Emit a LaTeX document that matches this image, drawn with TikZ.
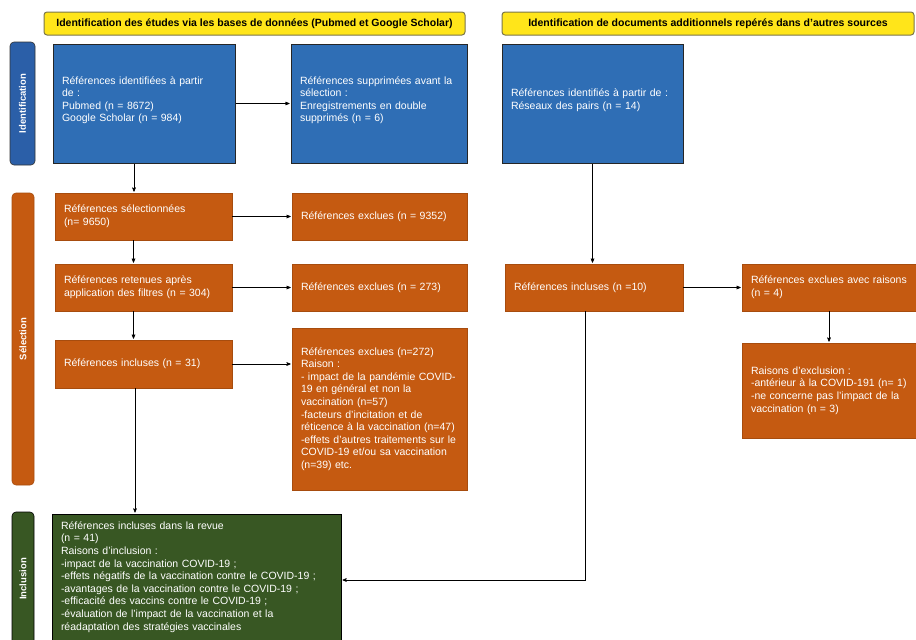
\documentclass[tikz,border=0pt]{standalone}
\usepackage{fontspec}
\setmainfont{Liberation Sans}
\usepackage{tikz}
\usetikzlibrary{arrows}

\definecolor{bleu}{HTML}{2F6EB5}
\definecolor{bleufonce}{HTML}{2B5FA8}
\definecolor{orangebox}{HTML}{C55A11}
\definecolor{vert}{HTML}{385723}
\definecolor{jaune}{HTML}{FFE51A}

\begin{document}
\begin{tikzpicture}[x=1pt,y=-1pt,->,>=stealth',shorten >=1pt,semithick,
    font=\fontsize{10.5}{12.6}\selectfont]
  \useasboundingbox (0,0) rectangle (916,640);
  \tikzstyle{hdr}=[draw=black!60!yellow,line width=1pt,fill=jaune,rounded corners=3pt,font=\fontsize{10.5}{12}\selectfont\bfseries]
  \tikzstyle{side}=[rotate=90,rounded corners=4pt,text=white,font=\fontsize{9.5}{10}\selectfont\bfseries]
  \tikzstyle{box}=[text=white,align=left,inner xsep=9pt,inner ysep=3pt]
  \tikzstyle{bluebox}=[box,draw=black!85,line width=1pt,fill=bleu]
  \tikzstyle{orangebox}=[box,draw=orangebox!85!black,fill=orangebox]
  \tikzstyle{greenbox}=[box,draw=black,line width=1pt,fill=vert]

  % en-tetes
  \node[hdr,minimum width=421pt,minimum height=23pt] (hA) at (254.5,23.5)
    {Identification des études via les bases de données (Pubmed et Google Scholar)};
  \node[hdr,minimum width=412pt,minimum height=23pt] (hB) at (708,23.5)
    {Identification de documents additionnels repérés dans d'autres sources};

  % phases
  \node[side,draw=black!80,fill=bleufonce,minimum width=123pt,minimum height=25pt] (sId) at (22.5,103.5) {Identification};
  \node[side,draw=orangebox!85!black,fill=orangebox,minimum width=292pt,minimum height=22pt] (sSel) at (23,339) {Sélection};
  \node[side,draw=black,fill=vert,minimum width=134pt,minimum height=22pt] (sInc) at (23,579) {Inclusion};

  % identification
  \node[bluebox,text width=164pt,minimum height=119pt] (b1) at (144,103.5)
    {Références identifiées à partir\\de :\\Pubmed (n = 8672)\\Google Scholar (n = 984)\\[-4pt]\mbox{}};
  \node[bluebox,text width=158pt,minimum height=119pt] (b2) at (379,103.5)
    {Références supprimées avant la\\sélection :\\Enregistrements en double\\supprimés (n = 6)\\[-4pt]\mbox{}};
  \node[bluebox,text width=163pt,minimum height=119pt] (b3) at (592.5,103.5)
    {Références identifiés à partir de :\\Réseaux des pairs (n = 14)\\[-4pt]\mbox{}};

  % selection
  \node[orangebox,text width=159pt,minimum height=47pt] (o1) at (143.5,216.5)
    {Références sélectionnées\\(n= 9650)};
  \node[orangebox,text width=157pt,minimum height=47pt] (e1) at (379.5,216.5)
    {Références exclues (n = 9352)};
  \node[orangebox,text width=159pt,minimum height=47pt] (o2) at (143.5,287.5)
    {Références retenues après\\application des filtres (n = 304)};
  \node[orangebox,text width=157pt,minimum height=47pt] (e2) at (379.5,287.5)
    {Références exclues (n = 273)};
  \node[orangebox,text width=159pt,minimum height=48pt] (o3) at (143.5,364)
    {Références incluses (n = 31)};
  \node[orangebox,text width=157pt,minimum height=162pt] (e3) at (379.5,409)
    {Références exclues (n=272)\\Raison :\\- impact de la pandémie COVID-\\19 en général et non la\\vaccination (n=57)\\-facteurs d'incitation et de\\réticence à la vaccination (n=47)\\-effets d'autres traitements sur le\\COVID-19 et/ou sa vaccination\\(n=39) etc.};
  \node[orangebox,text width=160pt,minimum height=47pt] (r1) at (594,287.5)
    {Références incluses (n =10)};
  \node[orangebox,text width=156pt,minimum height=47pt] (r2) at (829,287.5)
    {Références exclues avec raisons\\(n = 4)};
  \node[orangebox,text width=156pt,minimum height=95pt] (r3) at (829,390.5)
    {Raisons d'exclusion :\\-antérieur à la COVID-191 (n= 1)\\-ne concerne pas l'impact de la\\vaccination (n = 3)};

  % inclusion
  \node[greenbox,text width=271pt,minimum height=126pt] (g) at (196.5,577)
    {Références incluses dans la revue\\(n = 41)\\Raisons d'inclusion :\\-impact de la vaccination COVID-19 ;\\-effets négatifs de la vaccination contre le COVID-19 ;\\-avantages de la vaccination contre le COVID-19 ;\\-efficacité des vaccins contre le COVID-19 ;\\-évaluation de l'impact de la vaccination et la\\réadaptation des stratégies vaccinales};

  \path (b1) edge (b2)
        (o1) edge (e1)
        (o2) edge (e2)
        (r1) edge (r2)
        (r2) edge (r3);
  \draw ([xshift=-10pt]b1.south) -- ([xshift=-10pt]b1.south |- o1.north);
  \draw ([xshift=-10pt]o1.south) -- ([xshift=-10pt]o1.south |- o2.north);
  \draw ([xshift=-10pt]o2.south) -- ([xshift=-10pt]o2.south |- o3.north);
  \draw (o3.east) -- (o3.east -| e3.west);
  \draw ([xshift=-8.5pt]o3.south) -- ([xshift=-8.5pt]o3.south |- g.north);
  \draw (b3.south) -- (b3.south |- r1.north);
  \draw ([xshift=-9pt]r1.south) |- ([yshift=-3pt]g.east);
\end{tikzpicture}
\end{document}
